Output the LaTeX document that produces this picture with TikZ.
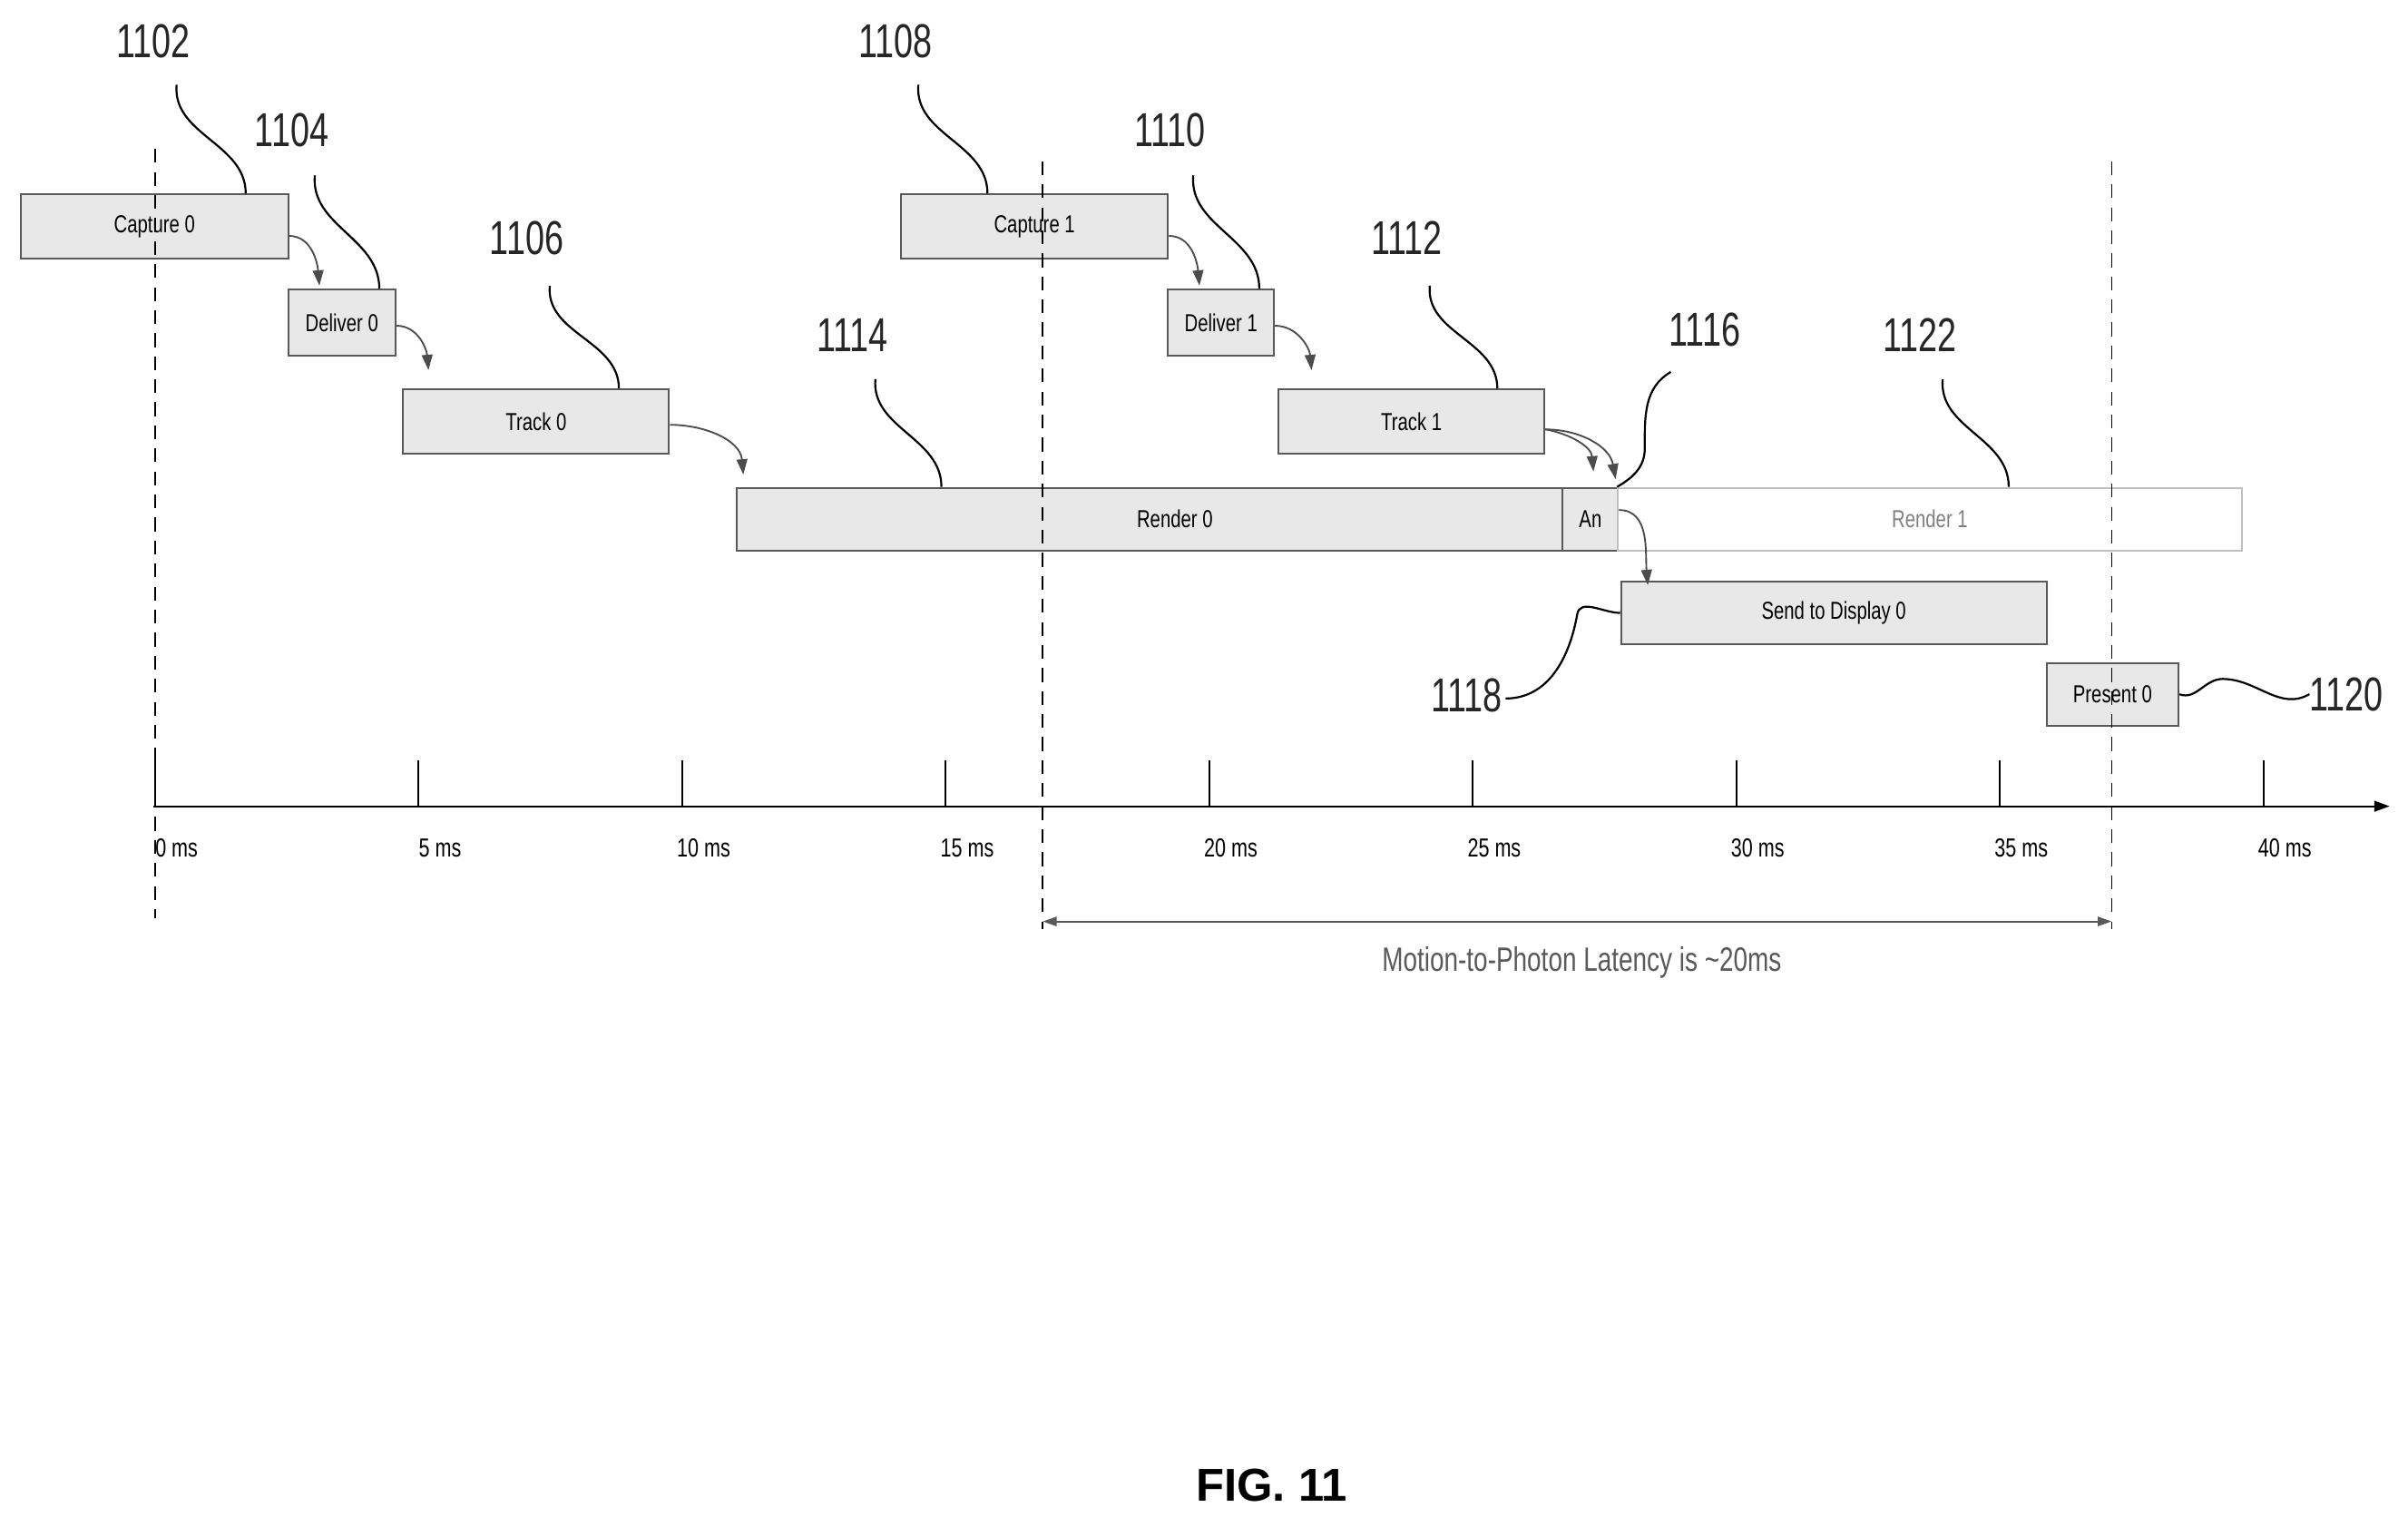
\documentclass[tikz,border=0pt]{standalone}
\usepackage{fontspec}
\setmainfont{Liberation Sans}
\newfontfamily\condfont{Liberation Sans}[FakeStretch=0.75]
\newfontfamily\numfont{Liberation Sans}[FakeStretch=0.72]
\usetikzlibrary{arrows.meta,positioning}
\begin{document}
\begin{tikzpicture}[x=1pt,y=-1pt,
  stage/.style={draw=gray!70!black,fill=gray!18,line width=1.2pt,inner sep=0pt,font=\condfont\fontsize{16}{16}\selectfont},
  refnum/.style={font=\numfont\fontsize{31}{31}\selectfont,inner sep=0pt,text=black!85},
  lead/.style={line width=1.3pt},
  flow/.style={gray!60!black,line width=1.1pt,-{Triangle[length=10pt,width=7pt]}},
  tick/.style={font=\condfont\fontsize{17}{17}\selectfont}]
\useasboundingbox (0,0) rectangle (1568,994);
% stages
\node[stage,minimum width=174pt,minimum height=42pt,anchor=north west] (cap0) at (13,126) {Capture 0};
\node[stage,minimum width=70pt,minimum height=43pt,anchor=north west] (del0) at (187,188) {Deliver 0};
\node[stage,minimum width=173pt,minimum height=42pt,anchor=north west] (trk0) at (262,253) {Track 0};
\node[stage,minimum width=538pt,minimum height=41pt,anchor=north west] (ren0) at (479,317) {};
\node[font=\condfont\fontsize{16}{16}\selectfont] (ren0lbl) at (765,338) {Render 0};
\node[stage,minimum width=36pt,minimum height=41pt,anchor=north west] (an) at (1017,317) {An};
\node[stage,fill=white,draw=gray!50,text=gray,minimum width=406pt,minimum height=41pt,anchor=north west] (ren1) at (1053,317) {Render 1};
\node[stage,minimum width=174pt,minimum height=42pt,anchor=north west] (cap1) at (586,126) {Capture 1};
\node[stage,minimum width=69pt,minimum height=43pt,anchor=north west] (del1) at (760,188) {Deliver 1};
\node[stage,minimum width=173pt,minimum height=42pt,anchor=north west] (trk1) at (832,253) {Track 1};
\node[stage,minimum width=277pt,minimum height=41pt,anchor=north west] (send0) at (1055,378) {Send to Display 0};
\node[stage,minimum width=86pt,minimum height=41pt,anchor=north west] (pres0) at (1332,431) {Present 0};
% flow arrows
\draw[flow] ([yshift=-6pt]cap0.east) to[out=0,in=95] ([xshift=21pt,yshift=2pt]del0.north west);
\draw[flow] ([yshift=-2pt]del0.east) to[out=0,in=95] ([xshift=17pt,yshift=12pt]trk0.north west);
\draw[flow] ([yshift=-2pt]trk0.east) to[out=0,in=95] ([xshift=5pt,yshift=8pt]ren0.north west);
\draw[flow] ([yshift=-6pt]cap1.east) to[out=0,in=95] ([xshift=21pt,yshift=2pt]del1.north west);
\draw[flow] ([yshift=-2pt]del1.east) to[out=0,in=95] ([xshift=22pt,yshift=12pt]trk1.north west);
\draw[flow] ([yshift=-5pt]trk1.east) to[out=-10,in=95] ([xshift=2pt,yshift=10pt]an.north);
\draw[flow] ([yshift=-5pt]trk1.east) to[out=0,in=100] ([xshift=-1pt,yshift=5pt]ren1.north west);
\draw[flow] ([yshift=6pt]an.east) to[out=0,in=95] ([xshift=18pt,yshift=-3pt]send0.north west);
% time axis
\coordinate (ax0) at (100,525);
\coordinate (ax1) at (1556,525);
\draw[line width=1.3pt,-{Triangle[length=10pt,width=7pt]}] (ax0) -- (ax1);
\foreach \t [count=\i from 0] in {0,5,...,40}{
  \draw[line width=1.1pt] (101+171.6*\i,495) -- (101+171.6*\i,525);
  \node[tick] (t\i) at (115+171.6*\i,552) {\t{} ms};
}
% dashed markers
\foreach \x/\a/\b [count=\i] in {101/97/598,679/105/605,1375/105/605}
  \draw[dashed,dash pattern=on 9pt off 6pt,line width=1pt] (\x,\a) coordinate (m\i a) -- (\x,\b) coordinate (m\i b);
\coordinate (lat0) at (679,600);
\coordinate (lat1) at (1375,600);
\draw[gray!70!black,line width=1.2pt,{Triangle[length=9pt,width=6pt]}-{Triangle[length=9pt,width=6pt]}] (lat0) -- (lat1);
\node[font=\condfont\fontsize{22}{22}\selectfont,text=gray!70!black] (latlbl) at (1030,627) {Motion-to-Photon Latency is \textasciitilde20ms};
% reference numerals
\node[refnum] (n1102) at (100,27) {1102};
\node[refnum] (n1104) at (190,85) {1104};
\node[refnum] (n1106) at (343,155) {1106};
\node[refnum] (n1114) at (555,218) {1114};
\node[refnum] (n1108) at (583,27) {1108};
\node[refnum] (n1110) at (762,85) {1110};
\node[refnum] (n1112) at (916,155) {1112};
\node[refnum] (n1116) at (1110,215) {1116};
\node[refnum] (n1122) at (1250,218) {1122};
\node[refnum] (n1118) at (955,453) {1118};
\node[refnum] (n1120) at (1528,452) {1120};
\draw[lead] ([xshift=15pt,yshift=-17pt]n1102.south) to[out=-95,in=90] ([xshift=147pt]cap0.north west);
\draw[lead] ([xshift=15pt,yshift=-18pt]n1104.south) to[out=-95,in=90] ([xshift=60pt]del0.north west);
\draw[lead] ([xshift=15pt,yshift=-20pt]n1106.south) to[out=-95,in=90] ([xshift=141pt]trk0.north west);
\draw[lead] ([xshift=15pt,yshift=-18pt]n1114.south) to[out=-95,in=90] ([xshift=134pt]ren0.north west);
\draw[lead] ([xshift=15pt,yshift=-17pt]n1108.south) to[out=-95,in=90] ([xshift=57pt]cap1.north west);
\draw[lead] ([xshift=15pt,yshift=-18pt]n1110.south) to[out=-95,in=90] ([xshift=60pt]del1.north west);
\draw[lead] ([xshift=15pt,yshift=-20pt]n1112.south) to[out=-95,in=90] ([xshift=143pt]trk1.north west);
\draw[lead] ([xshift=-22pt,yshift=-16pt]n1116.south) to[out=-150,in=90] ([xshift=18pt,yshift=25pt]ren1.north west) to[out=-90,in=30] (ren1.north west);
\draw[lead] ([xshift=15pt,yshift=-18pt]n1122.south) to[out=-95,in=90] ([xshift=255pt]ren1.north west);
\draw[lead] ([xshift=2pt,yshift=-13pt]n1118.north east) to[out=0,in=-100] ([xshift=-28pt,yshift=-1pt]send0.west) to[out=80,in=180] (send0.west);
\draw[lead] (pres0.east) to[out=-20,in=180] ([xshift=28pt,yshift=10pt]pres0.east) to[out=0,in=-150] (n1120.west);
% caption
\node[font=\bfseries\fontsize{30}{30}\selectfont] (fig) at (828,967) {FIG. 11};
\end{tikzpicture}
\end{document}
